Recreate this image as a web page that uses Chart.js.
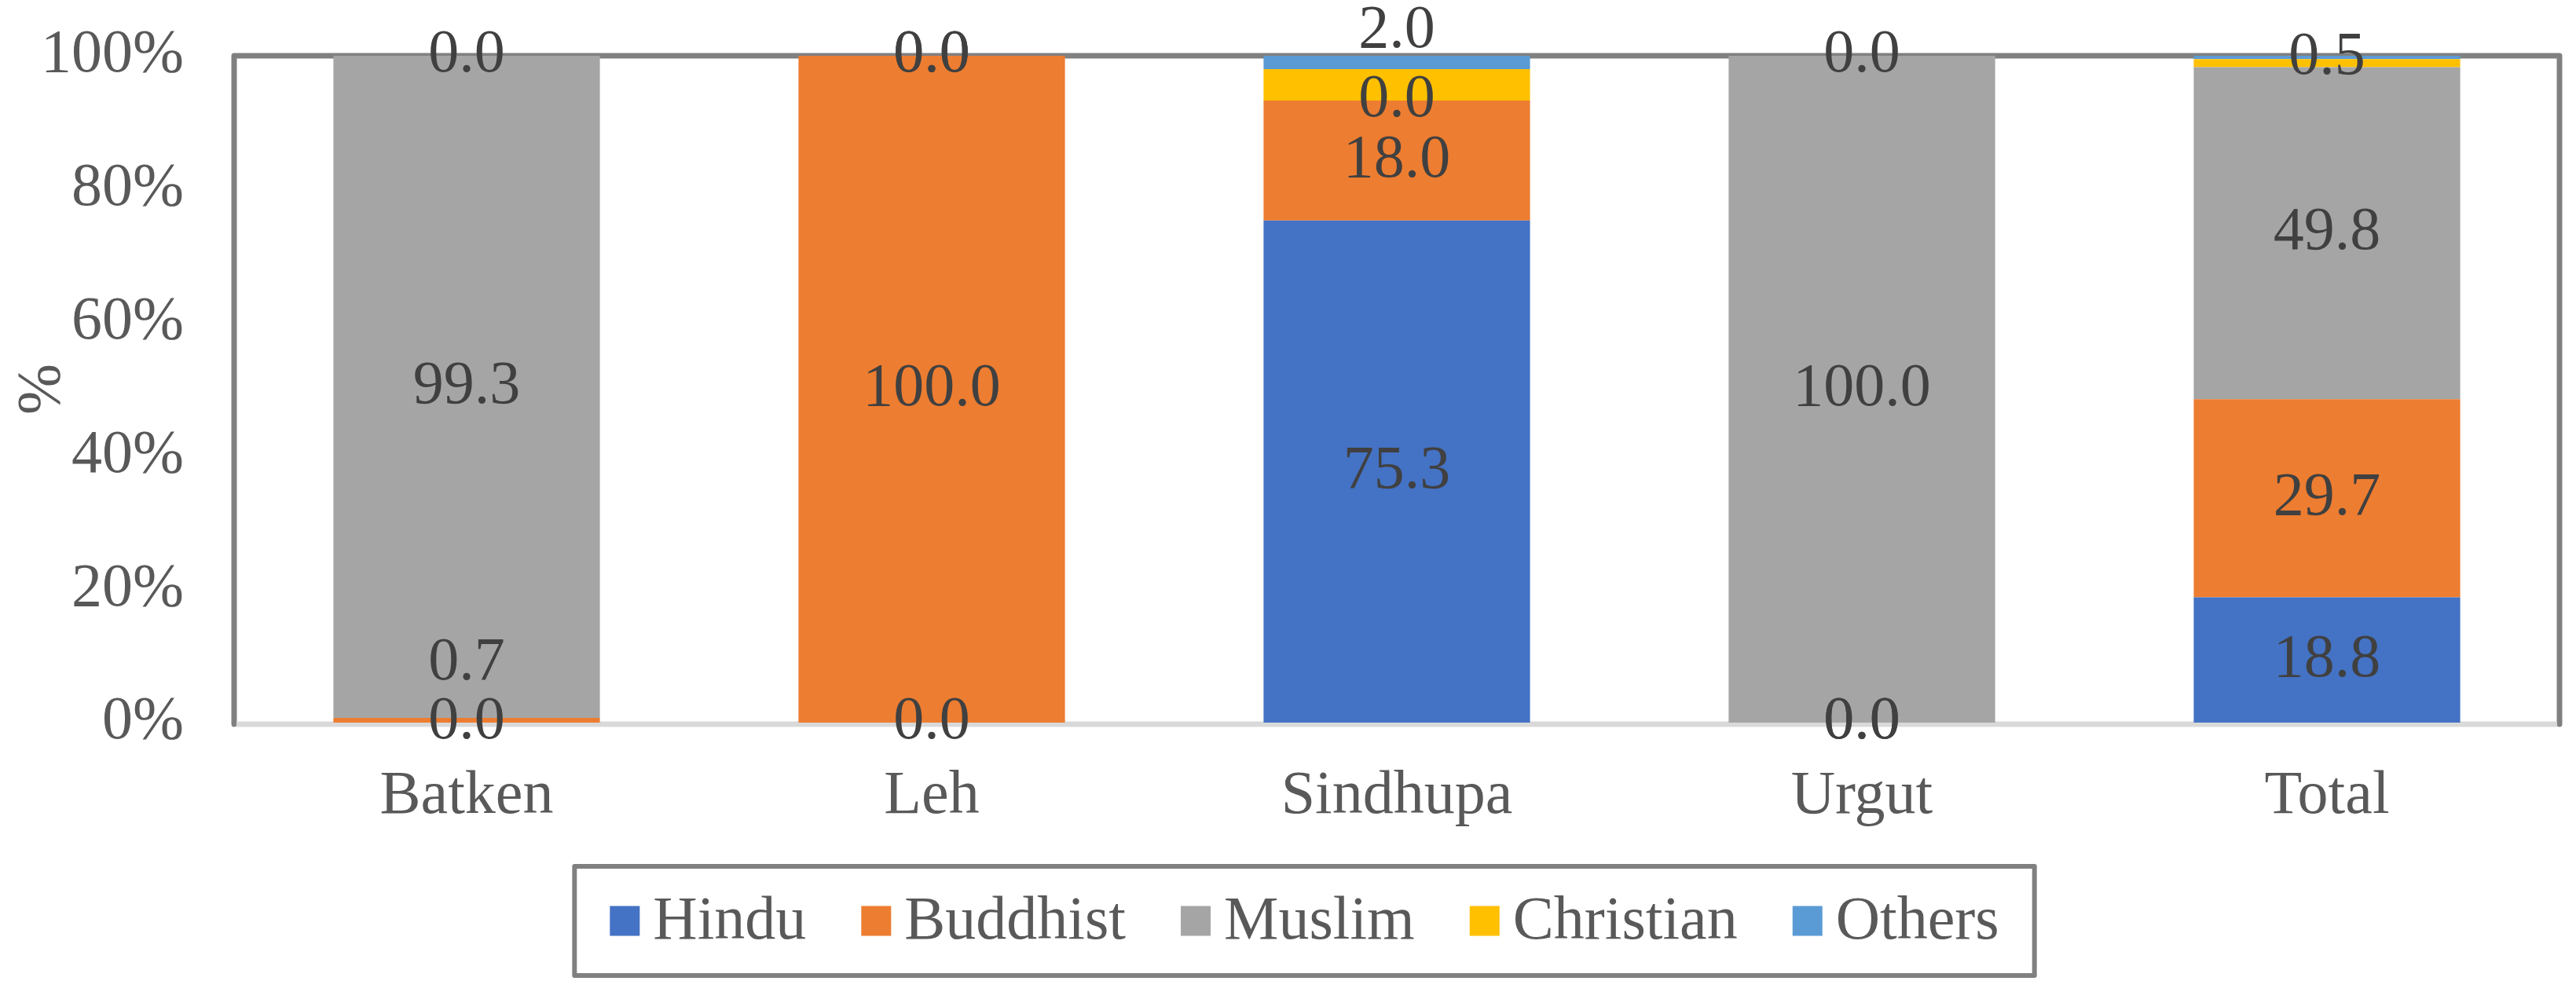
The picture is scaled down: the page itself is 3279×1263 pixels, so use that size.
<!DOCTYPE html>
<html>
<head>
<meta charset="utf-8">
<script src="https://cdn.jsdelivr.net/npm/chart.js@4.4.1/dist/chart.umd.min.js"></script>
<style>
  html, body { margin: 0; padding: 0; background: #fff; }
  canvas { display: block; }
</style>
</head>
<body>
<canvas id="religionChart" width="3279" height="1263"></canvas>
<script>
// Dados do gráfico
const categories = ['Batken', 'Leh', 'Sindhupa', 'Urgut', 'Total'];
const hindu = [0.0, 0.0, 75.3, 0.0, 18.8];
const buddhist = [0.7, 100.0, 18.0, 0.0, 29.7];
const muslim = [99.3, 0.0, 0.0, 100.0, 49.8];
const christian = [0.0, 0.0, 4.7, 0.0, 1.2];
const others = [0.0, 0.0, 2.0, 0.0, 0.5];
const yTicks = [0, 20, 40, 60, 80, 100];

const FONT = "'Liberation Serif', 'Times New Roman', serif";
const FONT_SIZE = 78;

// Rótulos deslocados à mão no original
const labelNudge = { 'Buddhist|Batken': -73, 'Others|Sindhupa': -40 };

// Moldura da área do gráfico (desenhada antes das barras)
const frame = {
    id: 'frame',
    beforeDatasetsDraw(chart) {
        const { ctx, chartArea: a } = chart;
        ctx.save();
        ctx.lineWidth = 7;
        ctx.lineCap = 'round';
        ctx.lineJoin = 'round';
        ctx.strokeStyle = '#808080';
        ctx.beginPath();
        ctx.moveTo(a.left, a.bottom + 2);
        ctx.lineTo(a.left, a.top);
        ctx.lineTo(a.right, a.top);
        ctx.lineTo(a.right, a.bottom + 2);
        ctx.stroke();
        ctx.strokeStyle = '#d9d9d9';
        ctx.lineCap = 'butt';
        ctx.beginPath();
        ctx.moveTo(a.left + 3, a.bottom + 2);
        ctx.lineTo(a.right - 3, a.bottom + 2);
        ctx.stroke();
        ctx.restore();
    }
};

// Valores no centro de cada segmento
const valueLabels = {
    id: 'valueLabels',
    afterDatasetsDraw(chart) {
        const ctx = chart.ctx;
        ctx.save();
        ctx.font = FONT_SIZE + 'px ' + FONT;
        ctx.fillStyle = '#404040';
        ctx.textAlign = 'center';
        ctx.textBaseline = 'middle';
        chart.data.datasets.forEach((ds, i) => {
            if (!ds.showValues) return;
            chart.getDatasetMeta(i).data.forEach((bar, j) => {
                const key = ds.label + '|' + categories[j];
                const y = (bar.y + bar.base) / 2 + (labelNudge[key] || 0);
                ctx.fillText(ds.data[j].toFixed(1), bar.x, y);
            });
        });
        ctx.restore();
    }
};

// Legenda com moldura, abaixo do eixo
const boxedLegend = {
    id: 'boxedLegend',
    afterDraw(chart) {
        const ctx = chart.ctx;
        const a = chart.chartArea;
        const sw = 38, gapText = 17, gapItem = 70, padX = 45, h = 139;
        ctx.save();
        ctx.font = FONT_SIZE + 'px ' + FONT;
        const items = chart.data.datasets.map(ds => ({
            label: ds.label, color: ds.backgroundColor, w: ctx.measureText(ds.label).width
        }));
        let content = 0;
        items.forEach((it, k) => { content += sw + gapText + it.w + (k ? gapItem : 0); });
        const boxW = content + padX * 2;
        const boxX = chart.width / 2 + 21 - boxW / 2;
        const boxY = a.bottom + 183;
        ctx.lineWidth = 6;
        ctx.strokeStyle = '#808080';
        ctx.lineJoin = 'round';
        ctx.strokeRect(boxX, boxY, boxW, h);
        const cy = boxY + h / 2;
        let x = boxX + padX;
        ctx.textBaseline = 'middle';
        ctx.textAlign = 'left';
        items.forEach(it => {
            ctx.fillStyle = it.color;
            ctx.fillRect(x, cy - sw / 2, sw, sw);
            ctx.fillStyle = '#595959';
            ctx.fillText(it.label, x + sw + gapText, cy + 2);
            x += sw + gapText + it.w + gapItem;
        });
        ctx.restore();
    }
};

const ctx = document.getElementById('religionChart').getContext('2d');
new Chart(ctx, {
    type: 'bar',
    data: {
        labels: categories,
        datasets: [
            { label: 'Hindu', data: hindu, backgroundColor: '#4472c4', showValues: true },
            { label: 'Buddhist', data: buddhist, backgroundColor: '#ed7d31', showValues: true },
            { label: 'Muslim', data: muslim, backgroundColor: '#a5a5a5', showValues: true },
            { label: 'Christian', data: christian, backgroundColor: '#ffc000', showValues: false },
            { label: 'Others', data: others, backgroundColor: '#5b9bd5', showValues: true }
        ]
    },
    options: {
        responsive: false,
        animation: false,
        devicePixelRatio: 1,
        layout: { padding: { top: 71, right: 21, bottom: 0, left: 0 } },
        datasets: { bar: { categoryPercentage: 1, barPercentage: 0.573, borderWidth: 0 } },
        scales: {
            x: {
                stacked: true,
                grid: { display: false, drawTicks: false },
                border: { display: false },
                ticks: {
                    padding: 48,
                    color: '#595959',
                    font: { family: FONT, size: FONT_SIZE }
                },
                afterFit: s => { s.height = 343; }
            },
            y: {
                stacked: true,
                min: 0,
                max: 100,
                grid: { display: false, drawTicks: false },
                border: { display: false },
                afterBuildTicks: s => { s.ticks = yTicks.map(v => ({ value: v })); },
                ticks: {
                    padding: 64,
                    color: '#595959',
                    font: { family: FONT, size: FONT_SIZE },
                    callback: v => v + '%'
                },
                title: {
                    display: true,
                    text: '%',
                    color: '#595959',
                    padding: { top: 8, bottom: 0 },
                    font: { family: FONT, size: FONT_SIZE }
                },
                // largura fixa do eixo; sem folga extra em cima/embaixo
                afterFit: s => {
                    s.width = 298;
                    s.paddingTop = 0;
                    s.paddingBottom = 0;
                }
            }
        },
        plugins: {
            legend: { display: false },
            tooltip: { enabled: false }
        }
    },
    plugins: [frame, valueLabels, boxedLegend]
});
</script>
</body>
</html>
